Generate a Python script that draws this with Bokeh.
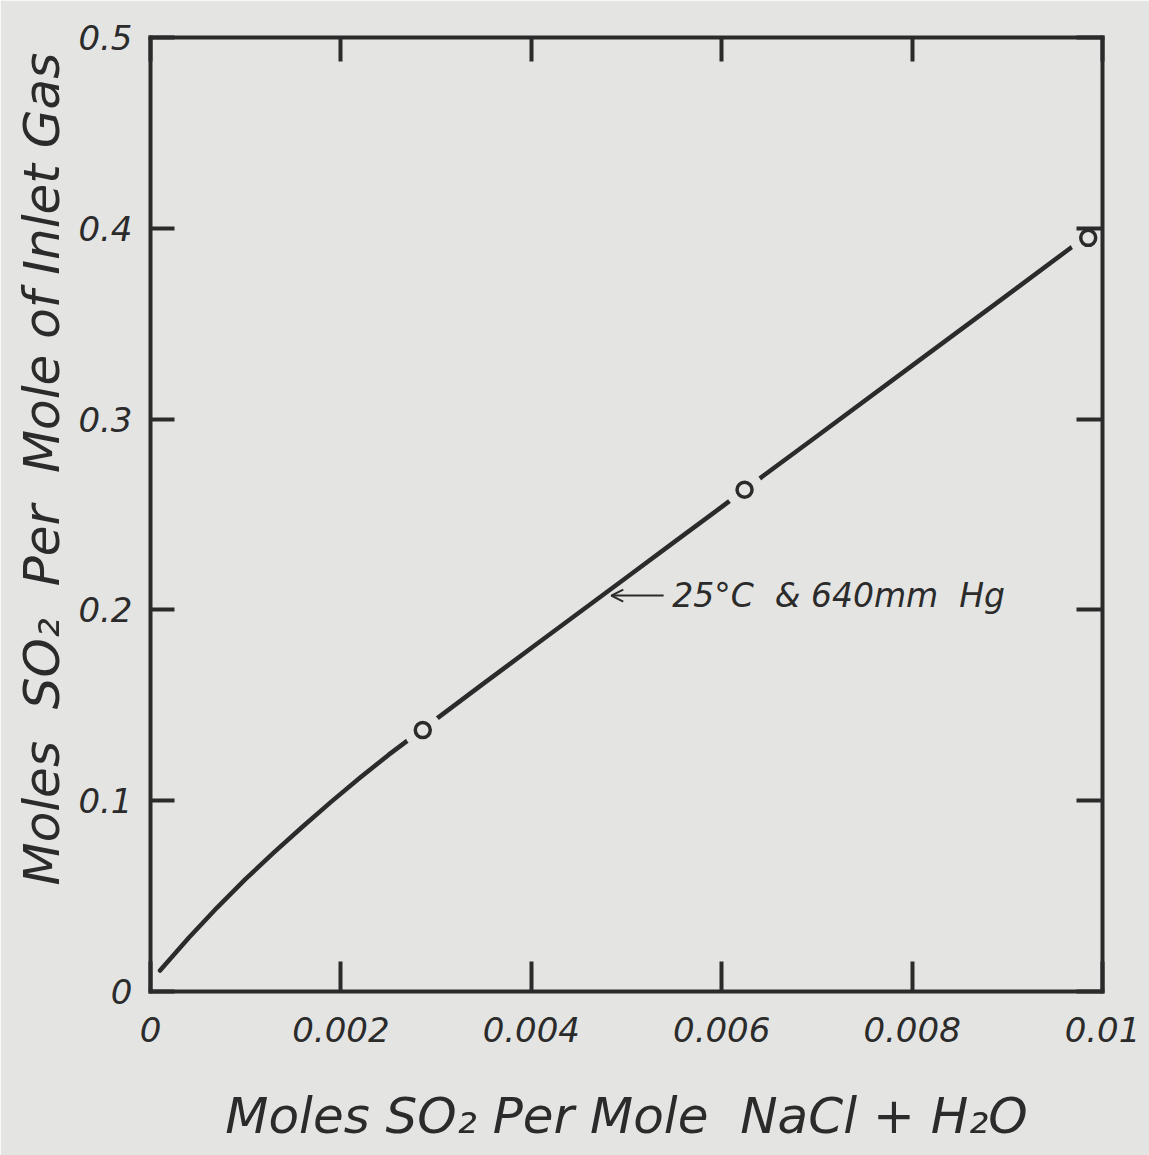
from bokeh.plotting import figure
from bokeh.models import (Range1d, FixedTicker, LinearAxis, Label, Arrow, OpenHead,
                          CustomJSTickFormatter, Title)
from bokeh.embed import file_html
from bokeh.resources import INLINE

# ---- data ----
curve_x = [0.0001, 0.0004, 0.0007, 0.0010, 0.0013, 0.0016, 0.0019, 0.0022, 0.0025, 0.00286,
           0.0035, 0.0040, 0.0045, 0.0050, 0.0055, 0.0060, 0.00624,
           0.0070, 0.0080, 0.0090, 0.0097]
curve_y = [0.011, 0.028, 0.044, 0.059, 0.073, 0.0865, 0.0995, 0.112, 0.124, 0.1375,
           0.1615, 0.180, 0.1985, 0.217, 0.2355, 0.254, 0.263,
           0.291, 0.328, 0.365, 0.391]
pts_x = [0.00286, 0.00624, 0.00985]
pts_y = [0.137, 0.263, 0.395]

x_ticks = [0, 0.002, 0.004, 0.006, 0.008, 0.01]
x_tick_labels = ["0", "0.002", "0.004", "0.006", "0.008", "0.01"]
y_ticks = [0, 0.1, 0.2, 0.3, 0.4, 0.5]
y_tick_labels = ["0", "0.1", "0.2", "0.3", "0.4", "0.5"]

NB = "\u00a0"
x_title = "Moles SO\u2082 Per Mole" + NB + " NaCl + H\u2082O"
y_title = ("Moles" + NB + " SO\u2082" + NB + " Per" + NB + " Mole of Inlet Gas")
note_text = "25\u00b0C" + NB + " &" + " 640mm" + NB + " Hg"
note_x, note_y = 0.00548, 0.2075
arrow_from_x, arrow_to_x = 0.00539, 0.00484

BG = "#e4e4e2"
INK = "#2b2b2b"
FONT = "DejaVu Sans"

p = figure(width=1149, height=1155, output_backend="svg", toolbar_location=None,
           x_range=Range1d(0, 0.01), y_range=Range1d(0, 0.5),
           min_border_left=150, min_border_right=47, min_border_top=37,
           min_border_bottom=164)
p.background_fill_color = BG
p.border_fill_color = BG
p.outline_line_color = None
p.xgrid.visible = False
p.ygrid.visible = False

def style_axis(ax, ticks, tick_in):
    ax.ticker = FixedTicker(ticks=ticks)
    ax.axis_line_color = INK
    ax.axis_line_width = 4
    ax.axis_line_cap = "square"
    ax.major_tick_line_color = INK
    ax.major_tick_line_width = 4
    ax.major_tick_in = tick_in
    ax.major_tick_out = 0
    ax.minor_tick_line_color = None
    ax.major_label_text_font = FONT
    ax.major_label_text_font_style = "italic"
    ax.major_label_text_color = INK

xa = p.xaxis[0]
style_axis(xa, x_ticks, 30)
xa.major_label_overrides = {t: l for t, l in zip(x_ticks, x_tick_labels)}
xa.major_label_text_font_size = "34px"
xa.major_label_standoff = 25
xa.axis_label = x_title
xa.axis_label_text_font = FONT
xa.axis_label_text_font_style = "italic"
xa.axis_label_text_font_size = "50px"
xa.axis_label_text_color = INK
xa.axis_label_standoff = 42

ya = p.yaxis[0]
style_axis(ya, y_ticks, 24)
ya.major_label_overrides = {t: l for t, l in zip(y_ticks, y_tick_labels)}
ya.major_label_text_font_size = "34px"
ya.major_label_standoff = 18

empty = CustomJSTickFormatter(code="return ''")
top = LinearAxis(formatter=empty)
style_axis(top, x_ticks, 24)
top.major_label_text_font_size = "1px"
p.add_layout(top, "above")
right = LinearAxis(formatter=empty)
style_axis(right, y_ticks, 26)
right.major_label_text_font_size = "1px"
p.add_layout(right, "right")

# curve
p.line(curve_x, curve_y, line_color=INK, line_width=4.5, line_cap="round",
       line_join="round")
# gaps around the data points, then the open circles
p.scatter(pts_x, pts_y, marker="circle", size=38, fill_color=BG, line_color=None)
p.scatter(pts_x, pts_y, marker="circle", size=15, fill_color=BG,
          line_color=INK, line_width=3.5)

# annotation
p.add_layout(Arrow(end=OpenHead(size=12, line_width=2, line_color=INK),
                   x_start=arrow_from_x, y_start=note_y, x_end=arrow_to_x, y_end=note_y,
                   line_width=2, line_color=INK))
p.add_layout(Label(x=note_x, y=note_y, text=note_text, text_font=FONT,
                   text_font_style="italic", text_font_size="33px", text_color=INK,
                   text_baseline="middle", text_align="left"))

# y-axis title
p.add_layout(Title(text=y_title, align="left", offset=106, text_font=FONT,
                   text_font_style="italic", text_font_size="50px",
                   text_color=INK, standoff=10), "left")

open("out.html", "w").write(file_html(p, INLINE))
